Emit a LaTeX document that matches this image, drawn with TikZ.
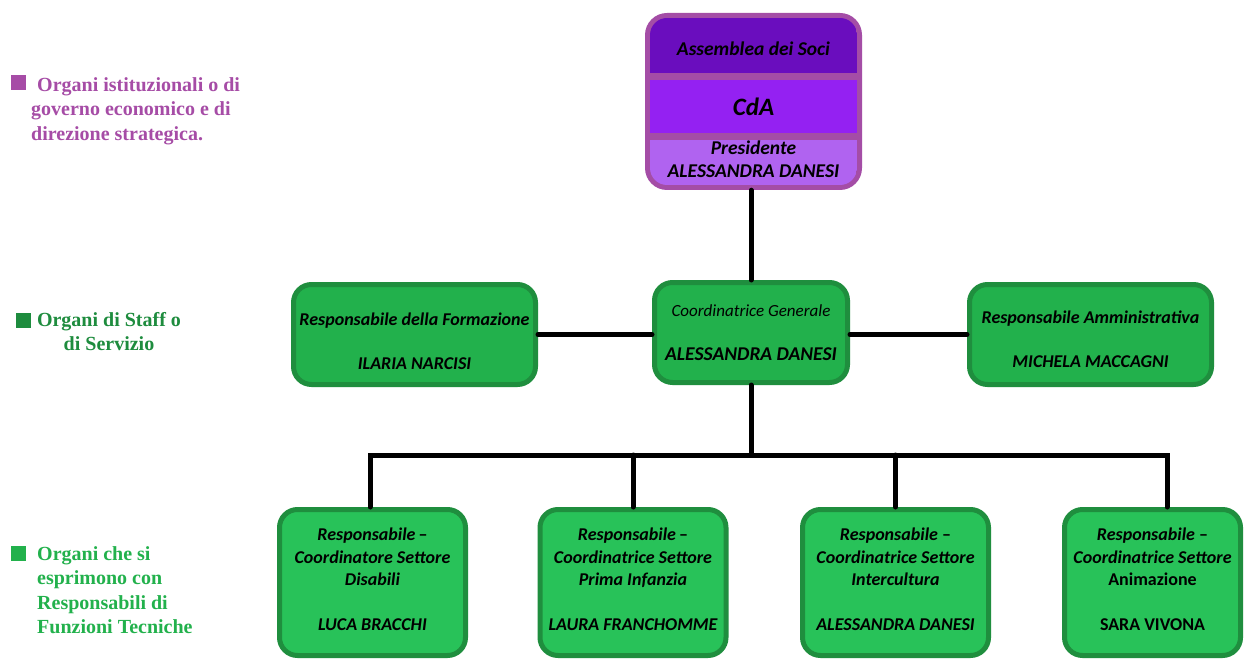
\documentclass[tikz,border=0pt]{standalone}
\usepackage{fontspec}
\setmainfont{Carlito}
\newfontfamily\legendfont{Liberation Serif}

\definecolor{cdaborder}{HTML}{A44DA6}
\definecolor{cdaone}{HTML}{6A0DBE}
\definecolor{cdatwo}{HTML}{9421F2}
\definecolor{cdathree}{HTML}{B063F0}
\definecolor{staffgreen}{HTML}{22B14C}
\definecolor{techgreen}{HTML}{28C259}
\definecolor{boxborder}{HTML}{1F8E3E}
\definecolor{keypurple}{HTML}{A64CA6}
\definecolor{keystaff}{HTML}{1E8C3E}
\definecolor{keytech}{HTML}{22B14C}

\tikzset{
  boxtext/.style={font=\bfseries\itshape\fontsize{18}{22.5}\selectfont, align=center},
  band/.style={font=\bfseries\itshape\fontsize{19.5}{23}\selectfont, align=center, minimum width=207pt, inner sep=0pt},
  staff/.style={boxtext, draw=boxborder, fill=staffgreen, line width=5pt, rounded corners=18pt, minimum width=242pt, minimum height=100pt, inner sep=0pt},
  tech/.style={boxtext, draw=boxborder, fill=techgreen, line width=5pt, rounded corners=18pt, minimum width=186pt, minimum height=146pt, inner sep=0pt},
  link/.style={line width=5pt, line cap=round},
  keybox/.style={minimum size=15pt, inner sep=0pt},
  keytext/.style={font=\legendfont\bfseries\fontsize{20}{24.5}\selectfont, inner sep=0pt}
}

\begin{document}
\begin{tikzpicture}[x=1pt,y=-1pt]
\path[use as bounding box, fill=white] (0,0) rectangle (1244,660);
\node[keybox, fill=keypurple] (keyone) at (18,82.5) {};
\node[keytext, text=keypurple, align=left, anchor=north west] (keyonetext) at (31,77) {\hspace*{6pt}Organi istituzionali o di\\governo economico e di\\direzione strategica.};
\node[keybox, fill=keystaff] (keytwo) at (23,320) {};
\node[keytext, text=keystaff, align=center, anchor=north] (keytwotext) at (109,312) {Organi di Staff o\\di Servizio};
\node[keybox, fill=keytech] (keythree) at (18,553) {};
\node[keytext, text=keytech, align=left, anchor=north west] (keythreetext) at (37,546) {Organi che si\\esprimono con\\Responsabili di\\Funzioni Tecniche};
\node[fill=cdaborder, rounded corners=22pt, minimum width=217pt, minimum height=177pt, inner sep=0pt] (soci) at (753.5,101.5) {};
\begin{scope}
\clip[rounded corners=17pt] (650,18) rectangle (857,185);
\node[band, fill=cdaone, minimum height=55pt, text height=20pt, text depth=0pt] (assemblea) at (753.5,45.5) {Assemblea dei Soci};
\node[band, fill=cdatwo, minimum height=53pt, font=\bfseries\itshape\fontsize{25}{28}\selectfont] (cda) at (753.5,106.5) {CdA};
\node[band, fill=cdathree, minimum height=45pt] (presidente) at (753.5,162.5) {Presidente\\ALESSANDRA DANESI\\[-17pt]\mbox{}};
\end{scope}
\node[staff] (formazione) at (414.5,334.5) {\mbox{}\\[3pt]Responsabile della Formazione\\[21.5pt]ILARIA NARCISI};
\node[staff, minimum width=193pt] (coord) at (751,332.5) {{\fontsize{17}{22}\selectfont\mdseries Coordinatrice Generale}\\[21.5pt]{\fontsize{19.5}{22}\selectfont ALESSANDRA DANESI}};
\node[staff] (amministrativa) at (1090.5,334.5) {\mbox{}\\[-1pt]Responsabile Amministrativa\\[21.5pt]MICHELA MACCAGNI};
\node[tech] (disabili) at (372.5,582.5) {Responsabile\textup{\,–}\\Coordinatore Settore\\Disabili\\[22pt]LUCA BRACCHI\\[-15.5pt]\mbox{}};
\node[tech] (infanzia) at (633,582.5) {Responsabile\textup{\,–}\\Coordinatrice Settore\\Prima Infanzia\\[22pt]LAURA FRANCHOMME\\[-15.5pt]\mbox{}};
\node[tech] (intercultura) at (895.5,582.5) {Responsabile \textup{–}\\Coordinatrice Settore\\Intercultura\\[22pt]ALESSANDRA DANESI\\[-15.5pt]\mbox{}};
\node[tech, minimum width=176pt] (animazione) at (1152.5,582.5) {Responsabile \textup{–}\\Coordinatrice Settore\\\textup{Animazione}\\[22pt]\textup{SARA VIVONA}\\[-15.5pt]\mbox{}};
\coordinate (busleft) at (370,455);
\coordinate (busright) at (1167,455);
\draw[link] (soci.south -| coord.north) -- (coord.north);
\draw[link] (formazione.east) -- (formazione.east -| coord.west);
\draw[link] (amministrativa.west -| coord.east) -- (amministrativa.west);
\draw[link] (coord.south) -- (coord.south |- busleft);
\draw[link] (busleft |- disabili.north) -- (busleft) -- (busright) -- (busright |- animazione.north);
\draw[link] (infanzia.north) -- (infanzia.north |- busleft);
\draw[link] (intercultura.north) -- (intercultura.north |- busleft);
\end{tikzpicture}
\end{document}
